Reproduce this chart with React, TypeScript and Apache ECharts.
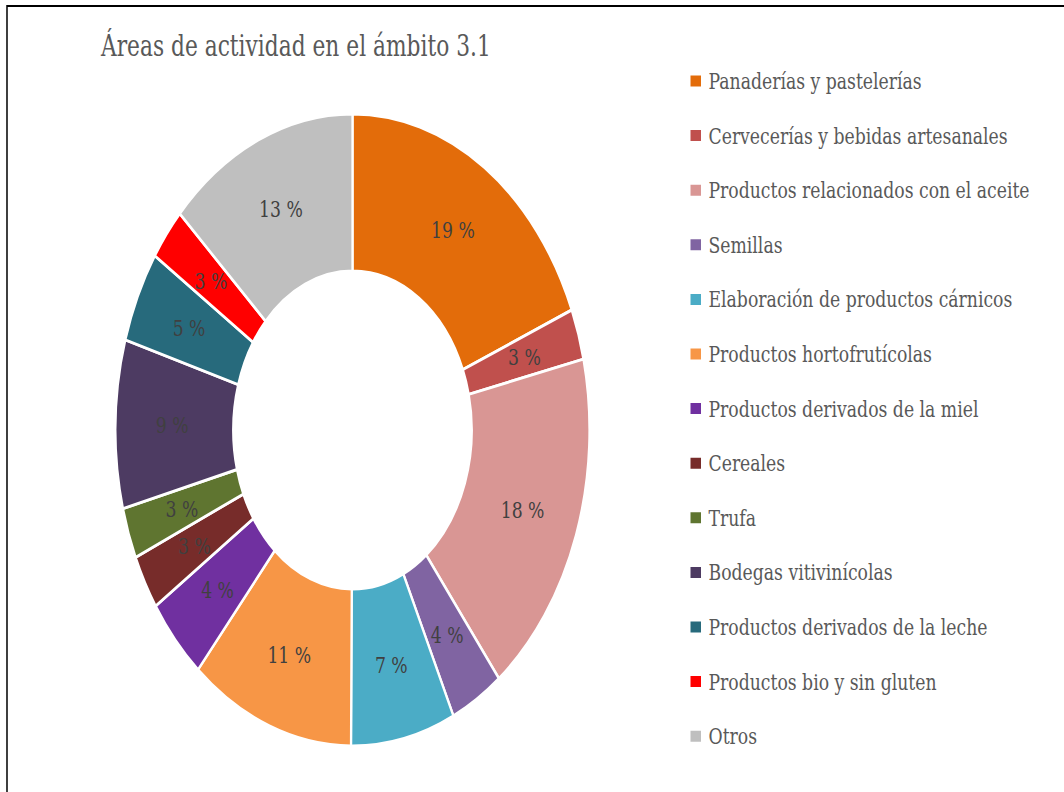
import React, { useEffect, useRef } from "react";
import * as echarts from "echarts";

const titleText = "Áreas de actividad en el ámbito 3.1";

const categories = [
  "Panaderías y pastelerías",
  "Cervecerías y bebidas artesanales",
  "Productos relacionados con el aceite",
  "Semillas",
  "Elaboración de productos cárnicos",
  "Productos hortofrutícolas",
  "Productos derivados de la miel",
  "Cereales",
  "Trufa",
  "Bodegas vitivinícolas",
  "Productos derivados de la leche",
  "Productos bio y sin gluten",
  "Otros",
];

const shares = [18.8, 2.6, 18.0, 3.6, 7.1, 11.2, 4.3, 2.8, 2.6, 8.6, 4.7, 2.7, 13.0];

const colors = [
  "#E36C0A",
  "#C0504D",
  "#D99694",
  "#8064A2",
  "#4BACC6",
  "#F79646",
  "#7030A0",
  "#772C2A",
  "#5F7530",
  "#4D3B62",
  "#276A7C",
  "#FF0000",
  "#BFBFBF",
];

const SX = 0.75;
const W = 1064 / SX;
const H = 792;
const FONT = "'DejaVu Serif', 'Liberation Serif', serif";

export default function App() {
  const ref = useRef<HTMLDivElement>(null);

  useEffect(() => {
    if (!ref.current) return;
    const chart = echarts.init(ref.current, null, { renderer: "svg", width: W, height: H });
    chart.setOption({
      animation: false,
      backgroundColor: "#ffffff",
      color: colors,
      title: {
        text: titleText,
        left: 101 / SX,
        top: 31,
        padding: 0,
        textStyle: { fontFamily: FONT, fontSize: 29, fontWeight: "normal", color: "#595959" },
      },
      legend: {
        orient: "vertical",
        left: 689 / SX,
        top: 69,
        padding: 0,
        itemWidth: 16,
        itemHeight: 13,
        itemGap: 30.6,
        icon: "rect",
        selectedMode: false,
        textStyle: {
          fontFamily: FONT,
          fontSize: 23,
          lineHeight: 24,
          color: "#595959",
          padding: [0, 0, 0, 4],
        },
        data: categories,
      },
      graphic: [
        {
          type: "rect",
          silent: true,
          shape: { x: 7 / SX, y: 6, width: 2000, height: 1000 },
          style: { fill: "none", stroke: "#000000", lineWidth: 2 },
        },
      ],
      series: [
        {
          type: "pie",
          center: [352.5 / SX, 430],
          radius: [159, 316],
          startAngle: 90,
          clockwise: true,
          silent: true,
          itemStyle: { borderColor: "#ffffff", borderWidth: 3 },
          label: {
            show: true,
            position: "inside",
            fontFamily: FONT,
            fontSize: 23,
            color: "#404040",
            formatter: (p: any) => Math.round(p.percent) + " %",
          },
          labelLine: { show: false },
          emphasis: { disabled: true },
          data: categories.map((name, i) => ({ name, value: shares[i] })),
        },
      ],
    });
    return () => chart.dispose();
  }, []);

  return (
    <div
      style={{
        position: "fixed",
        left: 0,
        top: 0,
        width: 1064,
        height: H,
        overflow: "hidden",
        background: "#ffffff",
      }}
    >
      <div
        ref={ref}
        style={{ width: W, height: H, transform: `scaleX(${SX})`, transformOrigin: "0 0" }}
      />
    </div>
  );
}
